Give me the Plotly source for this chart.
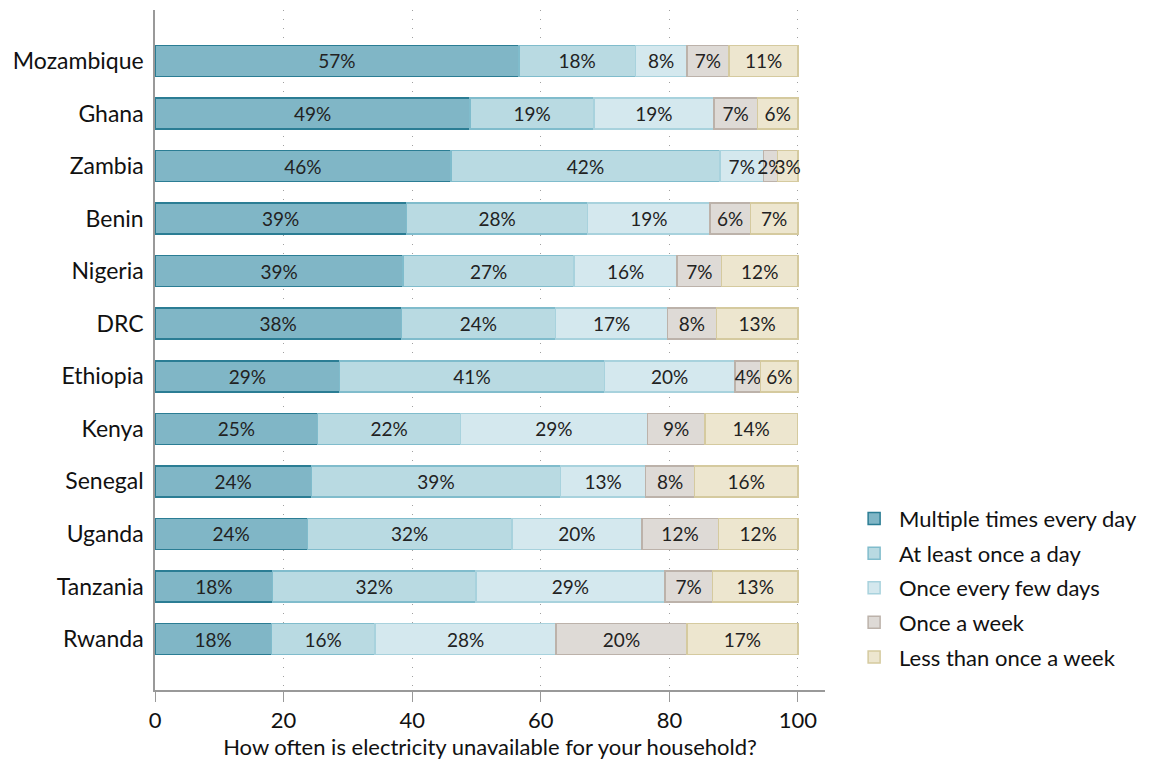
"""Stacked bar chart: how often electricity is unavailable, by country."""

import plotly.graph_objects as go


# ===== Data =====
countries = [
    "Mozambique", "Ghana", "Zambia", "Benin", "Nigeria", "DRC",
    "Ethiopia", "Kenya", "Senegal", "Uganda", "Tanzania", "Rwanda",
]

multiple_daily = [56.6, 49.0, 46.0, 39.1, 38.6, 38.3, 28.7, 25.3, 24.3, 23.7, 18.3, 18.1]
once_a_day = [18.1, 19.3, 41.9, 28.2, 26.6, 24.0, 41.2, 22.2, 38.8, 31.8, 31.6, 16.1]
few_days = [8.0, 18.6, 6.7, 19.0, 16.0, 17.4, 20.3, 29.1, 13.2, 20.2, 29.4, 28.2]
once_a_week = [6.6, 6.8, 2.2, 6.3, 6.9, 7.6, 4.0, 8.9, 7.6, 11.9, 7.4, 20.3]
less_than_weekly = [10.7, 6.3, 3.2, 7.4, 11.9, 12.7, 5.8, 14.4, 16.1, 12.4, 13.3, 17.3]

x_ticks = [0, 20, 40, 60, 80, 100]

# (name, values, fill, border)
series = [
    ("Multiple times every day", multiple_daily, "#80b6c6", "#2b7d94"),
    ("At least once a day", once_a_day, "#b9dae2", "#80bccc"),
    ("Once every few days", few_days, "#d4e8ee", "#a8d2dd"),
    ("Once a week", once_a_week, "#dedad6", "#bcb2aa"),
    ("Less than once a week", less_than_weekly, "#ede6cf", "#d5ca9f"),
]

FONT = "Lato, 'Open Sans', sans-serif"


# ===== Figure =====
fig = go.Figure()

for name, values, fill, border in series:
    fig.add_trace(go.Bar(
        name=name,
        legendgroup=name,
        x=values,
        y=countries,
        orientation="h",
        marker={"color": fill, "line": {"color": border, "width": 1.5}},
        text=values,
        texttemplate="%{x:.0f}%",
        textposition="inside",
        insidetextanchor="middle",
        textangle=0,
        constraintext="none",
        textfont={"size": 19, "color": "#222222", "family": FONT},
        hovertemplate="<b>%{y}</b><br>" + name + ": %{x:.0f}%<extra></extra>",
    ))

# page body adds an 8px offset, so margins are shifted by that amount
fig.update_layout(
    barmode="stack",
    bargap=0.41,
    width=1157,
    height=769,
    paper_bgcolor="white",
    plot_bgcolor="white",
    font={"family": FONT, "size": 22, "color": "#111111"},
    margin={"t": 2, "r": 340, "b": 87, "l": 147, "pad": 0, "autoexpand": False},
    showlegend=True,
    legend={
        "x": 1.036,
        "y": 0.018,
        "xanchor": "left",
        "yanchor": "bottom",
        "font": {"size": 22, "color": "#111111"},
        "traceorder": "grouped",
        "tracegroupgap": 3,
        "itemwidth": 40,
        "bgcolor": "rgba(0,0,0,0)",
    },
)

fig.update_xaxes(
    range=[0, 104.2],
    tickvals=x_ticks,
    ticks="outside",
    ticklen=10,
    tickcolor="#999999",
    showline=True,
    linecolor="#999999",
    linewidth=1.5,
    showgrid=True,
    gridcolor="#a0a0a0",
    griddash="1px,8px",
    gridwidth=1,
    zeroline=False,
    automargin=False,
    tickfont={"size": 22},
    title={"text": "How often is electricity unavailable for your household?",
           "font": {"size": 22}, "standoff": 6},
)

fig.update_yaxes(
    categoryorder="array",
    categoryarray=countries,
    range=[11.97, -0.97],
    showline=True,
    linecolor="#999999",
    linewidth=1.5,
    ticks="",
    ticklabelstandoff=5,
    showgrid=False,
    automargin=False,
    tickfont={"size": 23},
)

fig.write_html("out.html")
